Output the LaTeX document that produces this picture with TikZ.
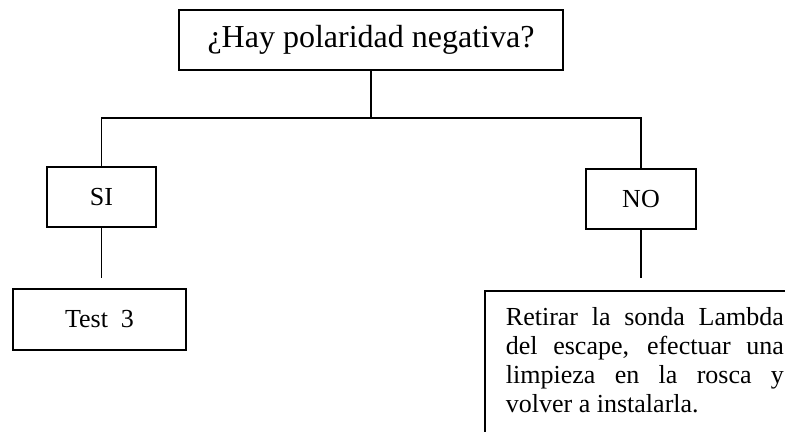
\documentclass[tikz,border=0pt]{standalone}
\usepackage{fontspec}
\setmainfont{Liberation Serif}
\usetikzlibrary{positioning}

\begin{document}
\begin{tikzpicture}[x=0.5pt, y=-0.5pt, line width=0.9pt,
    box/.style={draw, inner sep=0pt, font=\fontsize{13}{14.5}\selectfont},
  ]
  \useasboundingbox (0,0) rectangle (785,432);
  \clip (0,0) rectangle (785,432);
  % question
  \node[box, minimum width=192pt, minimum height=30pt,
        font=\fontsize{16}{18}\selectfont] (q) at (371,40) {¿Hay polaridad negativa?};
  % answers
  \node[box, minimum width=54.5pt, minimum height=30pt] (si) at (101.5,197) {SI};
  \node[box, minimum width=55pt, minimum height=30pt] (no) at (641,199) {NO};
  % results
  \node[box, minimum width=86.5pt, minimum height=30.5pt] (test) at (99.5,319.5) {Test\ \ 3};
  \node[box, anchor=north west, inner xsep=10.5pt, inner ysep=8.5pt,
        text width=139pt, align=justify] (fix) at (484,290)
    {Retirar la sonda Lambda\linebreak del escape, efectuar una\linebreak
     limpieza en la rosca y\linebreak volver a instalarla.\rule[-12pt]{0pt}{0pt}};
  % connectors
  \coordinate (split) at (q.south |- 0,118);
  \coordinate (siend) at (si.south |- 0,278);
  \coordinate (noend) at (no.south |- 0,278);
  \draw (q.south) -- (split);
  \draw (si.north) |- (split) -| (no.north);
  \draw (si.south) -- (siend);
  \draw (no.south) -- (noend);
\end{tikzpicture}
\end{document}
